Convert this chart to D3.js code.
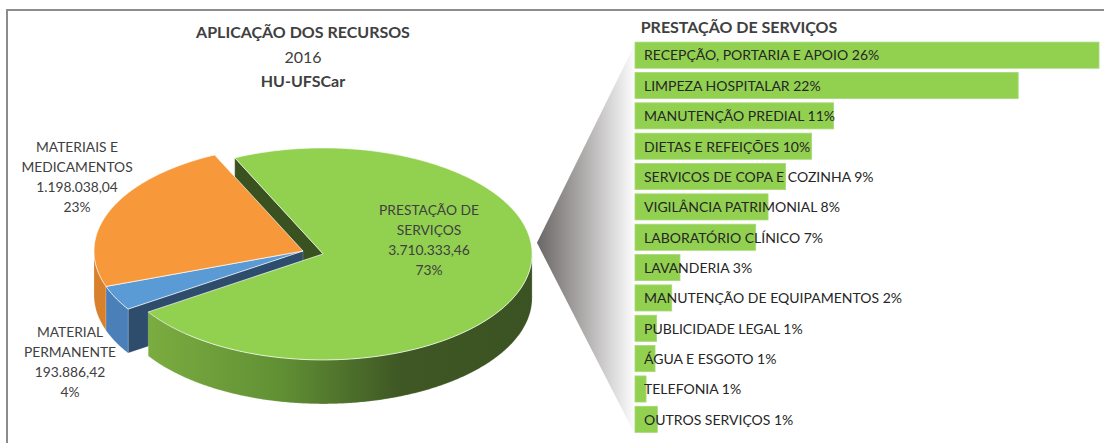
<!DOCTYPE html>
<html><head><meta charset="utf-8">
<script src="https://cdn.jsdelivr.net/npm/d3@7"></script>
<style>html,body{margin:0;padding:0;background:#fff;overflow:hidden}</style>
</head><body><svg id="chart" width="1104" height="443"></svg>
<script>
// ---------- data ----------
const chartTitle = ["APLICAÇÃO DOS RECURSOS", "2016", "HU-UFSCar"];
const pieCategories = ["PRESTAÇÃO DE SERVIÇOS", "MATERIAL PERMANENTE", "MATERIAIS E MEDICAMENTOS"];
const pieLabelLines = [["PRESTAÇÃO DE", "SERVIÇOS"], ["MATERIAL", "PERMANENTE"], ["MATERIAIS E", "MEDICAMENTOS"]];
const pieValues = [3710333.46, 193886.42, 1198038.04];
const barTitle = "PRESTAÇÃO DE SERVIÇOS";
const barCategories = ["RECEPÇÃO, PORTARIA E APOIO", "LIMPEZA HOSPITALAR", "MANUTENÇÃO PREDIAL",
  "DIETAS E REFEIÇÕES", "SERVICOS DE COPA E COZINHA", "VIGILÂNCIA PATRIMONIAL", "LABORATÓRIO CLÍNICO",
  "LAVANDERIA", "MANUTENÇÃO DE EQUIPAMENTOS", "PUBLICIDADE LEGAL", "ÁGUA E ESGOTO", "TELEFONIA", "OUTROS SERVIÇOS"];
const barShares = [26.4, 21.8, 11.3, 10.05, 8.57, 7.57, 6.87, 2.56, 2.09, 1.23, 1.14, 0.63, 1.27];
const barPctLabels = ["26%", "22%", "11%", "10%", "9%", "8%", "7%", "3%", "2%", "1%", "1%", "1%", "1%"];

// ---------- setup ----------
const svg = d3.select("#chart");
const FONT = "Lato, 'Open Sans', sans-serif";
const defs = svg.append("defs");

const gSide = defs.append("linearGradient").attr("id", "gSide").attr("gradientUnits", "userSpaceOnUse")
  .attr("x1", 150).attr("x2", 535).attr("y1", 0).attr("y2", 0);
[[0, "#7aac40"], [0.34, "#619034"], [0.65, "#3e5724"], [1, "#3b5322"]].forEach(s =>
  gSide.append("stop").attr("offset", s[0]).attr("stop-color", s[1]));
const gFun = defs.append("linearGradient").attr("id", "gFun").attr("gradientUnits", "userSpaceOnUse")
  .attr("x1", 537).attr("x2", 636).attr("y1", 0).attr("y2", 0);
[[0, "#6b6666"], [0.5, "#b3b0b0"], [1, "#ffffff"]].forEach(s =>
  gFun.append("stop").attr("offset", s[0]).attr("stop-color", s[1]));

// frame
svg.append("path").attr("d", "M7,443 V10 H1104").attr("fill", "none")
  .attr("stroke", "#8c8c8c").attr("stroke-width", 2);

// title
const title = svg.append("text").attr("text-anchor", "middle").attr("font-family", FONT).attr("fill", "#404040");
chartTitle.forEach((t, i) => {
  title.append("tspan").attr("x", 303).attr("y", [37.7, 62.5, 86.5][i])
    .attr("font-size", 16).attr("font-weight", i === 1 ? 400 : 700).text(t);
});

// ---------- 3D pie ----------
const cx = 303, cy = 251, rx = 209, ry = 106, depth = 44;
const start = -25 * Math.PI / 180;
const pie = d3.pie().sort(null).value(d => d).startAngle(start).endAngle(start + 2 * Math.PI);
const arcs = pie(pieValues);
const explode = [0.1, 0, 0];
const topCol = ["#92d050", "#5b9bd5", "#f7993a"];
const sideCol = ["url(#gSide)", "#4a7fb8", "#d8802b"];
const wallCol = ["#3a5220", "#2e4d6d", "#b86a1f"];

arcs.forEach((a, i) => {
  const mid = (a.startAngle + a.endAngle) / 2;
  a.c = [cx + rx * explode[i] * Math.sin(mid), cy - ry * explode[i] * Math.cos(mid)];
});
const P = (c, ang, r, h) => [c[0] + rx * r * Math.sin(ang), c[1] - ry * r * Math.cos(ang) + (h || 0)];
function rim(c, a0, a1, h) {
  const n = Math.max(2, Math.ceil(Math.abs(a1 - a0) / 0.01));
  return d3.range(n + 1).map(k => P(c, a0 + (a1 - a0) * k / n, 1, h));
}
const line = d3.line();
const pieces = [];
const n = arcs.length;
arcs.forEach((a, i) => {
  // curved outer side, front half only
  for (let k = -1; k <= 1; k++) {
    const lo = Math.max(a.startAngle, Math.PI / 2 + 2 * Math.PI * k);
    const hi = Math.min(a.endAngle, 1.5 * Math.PI + 2 * Math.PI * k);
    if (hi > lo) {
      const pts = rim(a.c, lo, hi, 0).concat(rim(a.c, hi, lo, depth));
      const m = (lo + hi) / 2;
      pieces.push({ key: a.c[1] - ry * Math.cos(m), d: line(pts) + "Z", fill: sideCol[i] });
    }
  }
  // radial walls next to an exploded neighbour
  const prev = (i - 1 + n) % n, next = (i + 1) % n;
  const walls = [];
  if (Math.sin(a.startAngle) < 0 && (explode[i] || explode[prev])) walls.push(a.startAngle);
  if (Math.sin(a.endAngle) > 0 && (explode[i] || explode[next])) walls.push(a.endAngle);
  walls.forEach(w => {
    const pts = [P(a.c, w, 0), P(a.c, w, 1), P(a.c, w, 1, depth), P(a.c, w, 0, depth)];
    pieces.push({ key: a.c[1] - ry * 0.5 * Math.cos(w), d: line(pts) + "Z", fill: wallCol[i] });
  });
});
const pieG = svg.append("g");
pieces.sort((p, q) => p.key - q.key).forEach(p =>
  pieG.append("path").attr("d", p.d).attr("fill", p.fill)
    .attr("stroke", "rgba(255,255,255,0.3)").attr("stroke-width", 0.6));
arcs.forEach((a, i) => {
  const pts = [a.c].concat(rim(a.c, a.startAngle, a.endAngle, 0));
  pieG.append("path").attr("d", line(pts) + "Z").attr("fill", topCol[i])
    .attr("stroke", "rgba(255,255,255,0.75)").attr("stroke-width", 0.9).attr("stroke-linejoin", "round");
});

// pie labels
const total = d3.sum(pieValues);
const br = d3.formatLocale({ decimal: ",", thousands: ".", grouping: [3], currency: ["R$", ""] });
const fmtVal = br.format(",.2f"), fmtPct = d3.format(".0%");
const labelPos = [[429, 215], [70, 336.7], [77, 151.7]];
arcs.forEach((a, i) => {
  const lines = pieLabelLines[i].concat([fmtVal(pieValues[i]), fmtPct(pieValues[i] / total)]);
  const t = svg.append("text").attr("text-anchor", "middle").attr("font-family", FONT)
    .attr("font-size", 13.8).attr("fill", "#404040");
  lines.forEach((s, k) => t.append("tspan").attr("x", labelPos[i][0]).attr("y", labelPos[i][1] + k * 20).text(s));
});

// ---------- bar of pie ----------
const y = d3.scaleBand().domain(barCategories).range([40, 434.5]).paddingInner(0.14).paddingOuter(0.07);
const x = d3.scaleLinear().domain([0, d3.max(barShares)]).range([635, 1099]);

const fy0 = y(barCategories[0]), fy1 = y(barCategories[barCategories.length - 1]) + y.bandwidth() + 4;
const vx = P(arcs[0].c, 84 * Math.PI / 180, 1)[0] + 6, vy = P(arcs[0].c, 84 * Math.PI / 180, 1)[1];
svg.append("path").attr("d", line([[vx, vy], [x(0) + 1, fy0], [x(0) + 1, fy1]]) + "Z").attr("fill", "url(#gFun)");

svg.append("text").attr("x", 640.7).attr("y", 32.7).attr("font-family", FONT).attr("font-weight", 700)
  .attr("font-size", 16).attr("fill", "#404040").text(barTitle);

const bars = svg.append("g");
barCategories.forEach((c, i) => {
  bars.append("rect").attr("x", x(0)).attr("y", y(c)).attr("width", x(barShares[i]) - x(0))
    .attr("height", y.bandwidth()).attr("fill", "#92d050").attr("stroke", "#a6d977").attr("stroke-width", 0.8);
  bars.append("text").attr("x", 644).attr("y", y(c) + y.bandwidth() / 2 + 5.3)
    .attr("font-family", FONT).attr("font-size", 14).attr("fill", "#262626")
    .text(c + " " + barPctLabels[i]);
});
</script></body></html>
